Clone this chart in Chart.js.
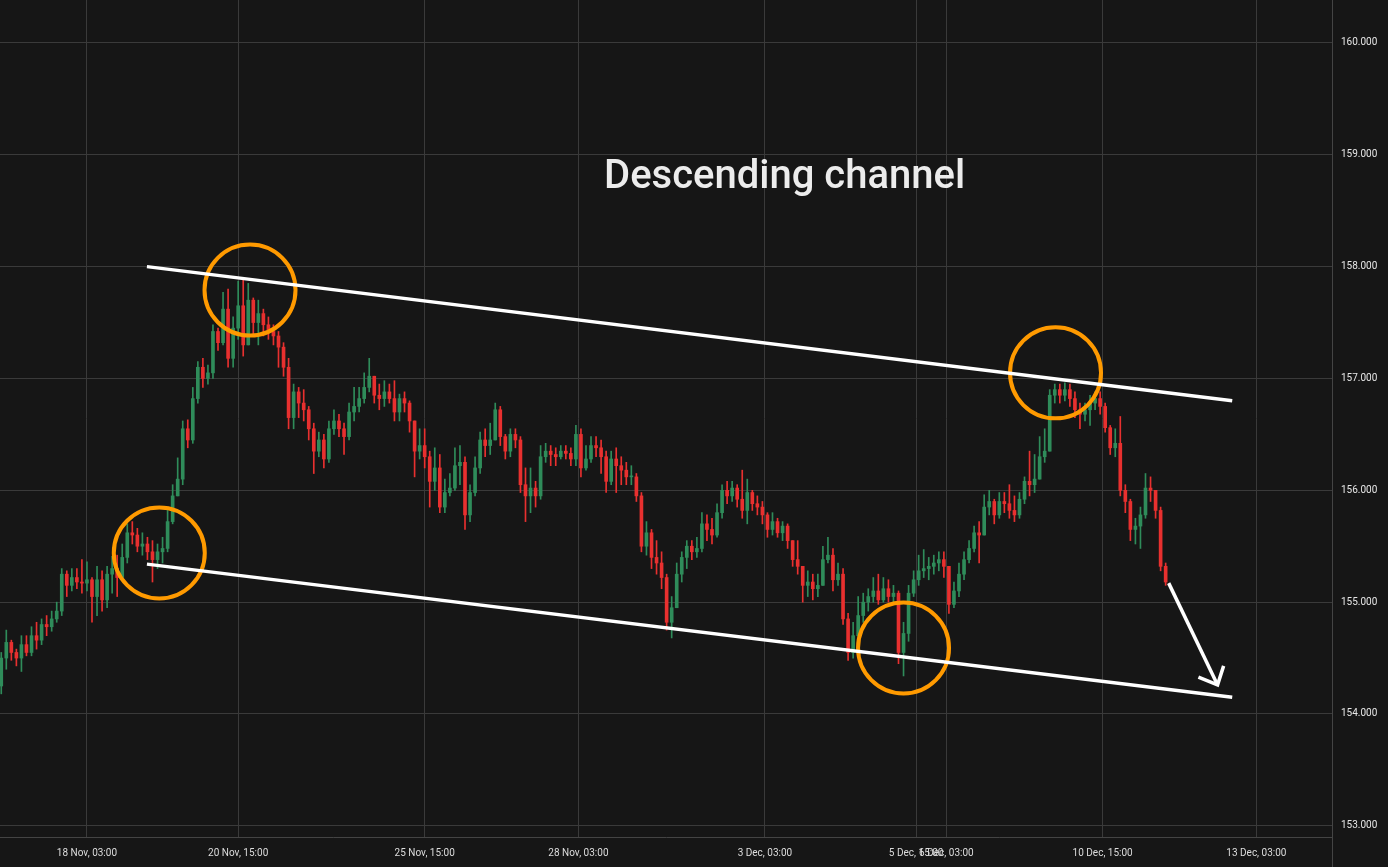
<!DOCTYPE html>
<html>
<head>
<meta charset="utf-8">
<title>Descending channel</title>
<script src="https://cdn.jsdelivr.net/npm/chart.js@4.4.1/dist/chart.umd.min.js"></script>
<style>
  html, body { margin: 0; padding: 0; background: #161616; }
  #wrap { width: 1388px; height: 867px; position: relative; }
</style>
</head>
<body>
<div id="wrap"><canvas id="priceChart"></canvas></div>
<script>
// 2-hour candles, x = trading hours since 18 Nov 03:00
const firstHour = -34;
const stepHours = 2;
const firstOpen = 154.25;

const closes = [
  154.50, 154.64, 154.55, 154.50, 154.62, 154.55, 154.70, 154.66, 154.80, 154.78,
  154.85, 154.92, 155.25, 155.15, 155.22, 155.18, 155.17, 155.20, 155.05, 155.20,
  155.02, 155.25, 155.30, 155.22, 155.40, 155.62, 155.60, 155.50, 155.52, 155.45,
  155.38, 155.45, 155.48, 155.72, 155.95, 156.10, 156.55, 156.45, 156.82, 157.10,
  157.00, 157.05, 157.42, 157.32, 157.62, 157.18, 157.45, 157.65, 157.30, 157.70,
  157.50, 157.58, 157.48, 157.42, 157.38, 157.28, 157.10, 156.65, 156.88, 156.78,
  156.72, 156.55, 156.35, 156.45, 156.28, 156.55, 156.62, 156.55, 156.48, 156.70,
  156.75, 156.82, 156.92, 157.02, 156.85, 156.82, 156.88, 156.82, 156.70, 156.82,
  156.78, 156.62, 156.35, 156.40, 156.30, 156.08, 156.20, 155.85, 155.98, 156.02,
  156.22, 156.25, 155.78, 155.98, 156.20, 156.45, 156.40, 156.45, 156.72, 156.48,
  156.35, 156.50, 156.45, 156.05, 155.95, 156.02, 155.95, 156.30, 156.35, 156.32,
  156.30, 156.35, 156.33, 156.28, 156.50, 156.20, 156.28, 156.40, 156.38, 156.30,
  156.08, 156.28, 156.22, 156.18, 156.12, 156.12, 155.95, 155.50, 155.62, 155.40,
  155.35, 155.22, 154.82, 154.95, 155.25, 155.40, 155.50, 155.45, 155.48, 155.70,
  155.65, 155.60, 155.80, 156.00, 155.95, 156.02, 155.92, 155.82, 155.98, 155.88,
  155.85, 155.78, 155.65, 155.72, 155.62, 155.68, 155.55, 155.38, 155.32, 155.15,
  155.18, 155.12, 155.15, 155.38, 155.42, 155.20, 155.25, 154.85, 154.55, 154.70,
  154.88, 155.00, 155.05, 155.10, 155.02, 155.12, 155.05, 155.08, 154.55, 154.72,
  155.08, 155.20, 155.28, 155.30, 155.32, 155.35, 155.38, 155.32, 154.98, 155.10,
  155.25, 155.38, 155.48, 155.62, 155.60, 155.85, 155.90, 155.78, 155.90, 155.88,
  155.82, 155.78, 155.92, 156.08, 156.05, 156.10, 156.30, 156.35, 156.85, 156.90,
  156.85, 156.90, 156.82, 156.72, 156.68, 156.72, 156.78, 156.82, 156.75, 156.56,
  156.38, 156.42, 156.00, 155.90, 155.65, 155.68, 155.78, 156.02, 156.00, 155.82,
  155.32, 155.18
];

const highs = [
  154.55, 154.75, 154.66, 154.58, 154.70, 154.70, 154.78, 154.82, 154.85, 154.88,
  154.92, 155.00, 155.30, 155.28, 155.30, 155.30, 155.38, 155.36, 155.22, 155.32,
  155.28, 155.32, 155.41, 155.42, 155.52, 155.70, 155.72, 155.66, 155.62, 155.58,
  155.55, 155.52, 155.58, 155.82, 156.05, 156.29, 156.62, 156.63, 156.92, 157.15,
  157.18, 157.12, 157.48, 157.45, 157.77, 157.80, 157.55, 157.87, 157.88, 157.85,
  157.72, 157.70, 157.62, 157.55, 157.48, 157.42, 157.32, 157.18, 156.95, 156.92,
  156.90, 156.75, 156.60, 156.52, 156.50, 156.62, 156.72, 156.68, 156.60, 156.78,
  156.92, 156.92, 157.05, 157.18, 157.02, 156.95, 156.98, 156.95, 156.98, 156.86,
  156.88, 156.80, 156.62, 156.55, 156.55, 156.35, 156.38, 156.32, 156.10, 156.15,
  156.38, 156.40, 156.30, 156.05, 156.30, 156.52, 156.55, 156.60, 156.78, 156.75,
  156.50, 156.55, 156.55, 156.48, 156.20, 156.20, 156.08, 156.40, 156.42, 156.40,
  156.38, 156.40, 156.40, 156.38, 156.58, 156.55, 156.40, 156.48, 156.48, 156.45,
  156.35, 156.35, 156.38, 156.30, 156.25, 156.22, 156.15, 155.98, 155.72, 155.65,
  155.55, 155.45, 155.25, 155.05, 155.35, 155.45, 155.55, 155.55, 155.58, 155.80,
  155.78, 155.75, 155.88, 156.05, 156.08, 156.08, 156.05, 156.18, 156.10, 156.00,
  155.95, 155.90, 155.80, 155.80, 155.75, 155.72, 155.70, 155.55, 155.55, 155.30,
  155.28, 155.25, 155.25, 155.50, 155.58, 155.48, 155.35, 155.30, 154.90, 154.82,
  155.05, 155.08, 155.12, 155.22, 155.25, 155.22, 155.20, 155.15, 155.10, 154.82,
  155.15, 155.28, 155.42, 155.47, 155.40, 155.42, 155.45, 155.45, 155.32, 155.18,
  155.35, 155.45, 155.55, 155.68, 155.72, 155.96, 156.00, 155.92, 155.98, 155.98,
  156.05, 155.95, 155.98, 156.12, 156.35, 156.32, 156.48, 156.55, 156.90, 156.95,
  156.95, 156.96, 156.95, 156.88, 156.78, 156.78, 156.85, 156.88, 156.88, 156.78,
  156.58, 156.55, 156.66, 156.05, 155.92, 155.75, 155.85, 156.15, 156.12, 156.00,
  155.85, 155.35
];

const lows = [
  154.18, 154.40, 154.48, 154.43, 154.38, 154.52, 154.52, 154.58, 154.62, 154.70,
  154.74, 154.82, 154.88, 155.05, 155.10, 155.12, 155.08, 155.10, 154.82, 154.88,
  154.92, 154.95, 155.08, 155.05, 155.20, 155.35, 155.52, 155.45, 155.42, 155.38,
  155.18, 155.30, 155.35, 155.45, 155.70, 155.95, 156.05, 156.38, 156.42, 156.78,
  156.92, 156.95, 157.00, 157.25, 157.30, 157.10, 157.10, 157.35, 157.20, 157.30,
  157.40, 157.30, 157.38, 157.35, 157.30, 157.10, 157.02, 156.55, 156.55, 156.65,
  156.62, 156.45, 156.15, 156.30, 156.20, 156.25, 156.50, 156.48, 156.32, 156.45,
  156.62, 156.70, 156.78, 156.88, 156.78, 156.72, 156.75, 156.78, 156.62, 156.62,
  156.70, 156.52, 156.12, 156.28, 156.20, 155.85, 156.00, 155.80, 155.80, 155.95,
  156.00, 156.05, 155.65, 155.72, 155.95, 156.15, 156.30, 156.32, 156.45, 156.40,
  156.28, 156.30, 156.38, 155.98, 155.72, 155.80, 155.85, 155.92, 156.25, 156.22,
  156.22, 156.28, 156.28, 156.22, 156.22, 156.12, 156.18, 156.25, 156.30, 156.15,
  155.98, 156.05, 155.98, 156.05, 156.05, 156.05, 155.90, 155.45, 155.42, 155.30,
  155.25, 155.12, 154.75, 154.68, 154.95, 155.18, 155.30, 155.38, 155.40, 155.45,
  155.55, 155.52, 155.58, 155.75, 155.88, 155.90, 155.85, 155.75, 155.70, 155.82,
  155.78, 155.70, 155.58, 155.60, 155.58, 155.55, 155.48, 155.32, 155.25, 155.00,
  155.05, 155.02, 155.05, 155.15, 155.35, 155.10, 155.15, 154.80, 154.48, 154.50,
  154.62, 154.82, 154.92, 155.00, 154.98, 155.00, 155.00, 154.98, 154.45, 154.34,
  154.65, 155.05, 155.15, 155.22, 155.20, 155.25, 155.28, 155.22, 154.90, 154.95,
  155.05, 155.20, 155.35, 155.45, 155.35, 155.60, 155.78, 155.70, 155.75, 155.80,
  155.75, 155.72, 155.75, 155.88, 155.95, 155.98, 156.10, 156.25, 156.35, 156.78,
  156.78, 156.80, 156.75, 156.65, 156.55, 156.62, 156.58, 156.72, 156.68, 156.52,
  156.32, 156.30, 155.95, 155.80, 155.55, 155.52, 155.48, 155.75, 155.90, 155.75,
  155.28, 155.15
];

// axis ticks
const xTickHours = [0, 60, 134, 195, 269, 329, 341, 403, 464];
const xTickLabels = ['18 Nov, 03:00', '20 Nov, 15:00', '25 Nov, 15:00', '28 Nov, 03:00',
  '3 Dec, 03:00', '5 Dec, 15:00', '6 Dec, 03:00', '10 Dec, 15:00', '13 Dec, 03:00'];
const yTicks = [153, 154, 155, 156, 157, 158, 159, 160];

// drawings, in [hour, price]
const upperChannel = [[23.8, 158.00], [454.4, 156.80]];
const lowerChannel = [[23.8, 155.34], [454.4, 154.15]];
const arrowShaft = [[429.2, 155.17], [448.6, 154.26]];
const arrowHead = [[441.0, 154.33], [448.6, 154.26], [451.0, 154.43]];
const circleCenters = [[28.7, 155.44], [64.7, 157.79], [324.0, 154.59], [384.3, 157.05]];
const noteText = 'Descending channel';
const notePos = [276.8, 158.70];

const GREEN = '#2f8c5a';
const RED = '#e8302f';
const GRID = '#3a3a3a';

const hours = closes.map((c, i) => firstHour + i * stepHours);
const opens = closes.map((c, i) => i === 0 ? firstOpen : closes[i - 1]);
const candleColor = ctx => closes[ctx.dataIndex] >= opens[ctx.dataIndex] ? GREEN : RED;
const toPoints = arr => arr.map(p => ({ x: p[0], y: p[1] }));

const whiteLine = (pts, width) => ({
  type: 'line',
  data: toPoints(pts),
  borderColor: '#ffffff',
  borderWidth: width,
  pointRadius: 0,
  order: 0
});

// no label overhang padding, the plot runs to the window edges
const noPad = s => {
  s.paddingTop = 0;
  s.paddingBottom = 0;
  s.paddingLeft = 0;
  s.paddingRight = 0;
};

const chartBg = {
  id: 'chartBg',
  beforeDraw(chart) {
    const c = chart.ctx;
    c.save();
    c.fillStyle = '#161616';
    c.fillRect(0, 0, chart.width, chart.height);
    c.restore();
  },
  afterDraw(chart) {
    const c = chart.ctx;
    const { x, y } = chart.scales;
    const area = chart.chartArea;
    c.save();
    // right axis line runs down through the time labels
    c.strokeStyle = '#444444';
    c.lineWidth = 1;
    c.beginPath();
    c.moveTo(area.right + 0.5, area.bottom);
    c.lineTo(area.right + 0.5, chart.height);
    c.stroke();
    c.fillStyle = '#ececec';
    c.font = '500 40px Roboto';
    c.textAlign = 'center';
    c.textBaseline = 'alphabetic';
    c.fillText(noteText, x.getPixelForValue(notePos[0]), y.getPixelForValue(notePos[1]));
    c.restore();
  }
};

new Chart(document.getElementById('priceChart'), {
  type: 'bar',
  data: {
    datasets: [
      whiteLine(upperChannel, 3.5),
      whiteLine(lowerChannel, 3.5),
      whiteLine(arrowShaft, 3.5),
      whiteLine(arrowHead, 3.5),
      {
        type: 'line',
        data: toPoints(circleCenters),
        showLine: false,
        pointRadius: 45.5,
        pointHoverRadius: 45.5,
        pointBorderWidth: 4,
        pointBorderColor: '#ff9a00',
        pointBackgroundColor: 'rgba(0,0,0,0)',
        clip: false,
        order: 0
      },
      {
        label: 'body',
        data: hours.map((h, i) => ({ x: h, y: [opens[i], closes[i]] })),
        backgroundColor: candleColor,
        barThickness: 3,
        minBarLength: 1,
        grouped: false,
        order: 1
      },
      {
        label: 'wick',
        data: hours.map((h, i) => ({ x: h, y: [lows[i], highs[i]] })),
        backgroundColor: candleColor,
        barThickness: 1,
        grouped: false,
        order: 2
      }
    ]
  },
  options: {
    responsive: true,
    maintainAspectRatio: false,
    devicePixelRatio: 1,
    animation: false,
    events: [],
    layout: { padding: 0, autoPadding: false },
    plugins: { legend: { display: false }, tooltip: { enabled: false } },
    scales: {
      x: {
        type: 'linear',
        min: -34.5,
        max: 494,
        offset: false,
        afterBuildTicks: s => { s.ticks = xTickHours.map(v => ({ value: v })); },
        afterFit: s => { s.height = 30; noPad(s); },
        grid: { color: GRID, drawTicks: false, offset: false },
        border: { color: '#444444' },
        ticks: {
          autoSkip: false,
          maxRotation: 0,
          padding: 10,
          color: '#dddddd',
          font: { family: 'Roboto', size: 10 },
          callback: (v, i) => xTickLabels[i]
        }
      },
      y: {
        position: 'right',
        min: 152.90,
        max: 160.384,
        afterBuildTicks: s => { s.ticks = yTicks.map(v => ({ value: v })); },
        afterFit: s => { s.width = 56; noPad(s); },
        grid: { color: GRID, drawTicks: false },
        border: { color: '#444444' },
        ticks: {
          padding: 9,
          color: '#e6e6e6',
          font: { family: 'Roboto', size: 10 },
          callback: v => v.toFixed(3)
        }
      }
    }
  },
  plugins: [chartBg]
});
</script>
</body>
</html>
